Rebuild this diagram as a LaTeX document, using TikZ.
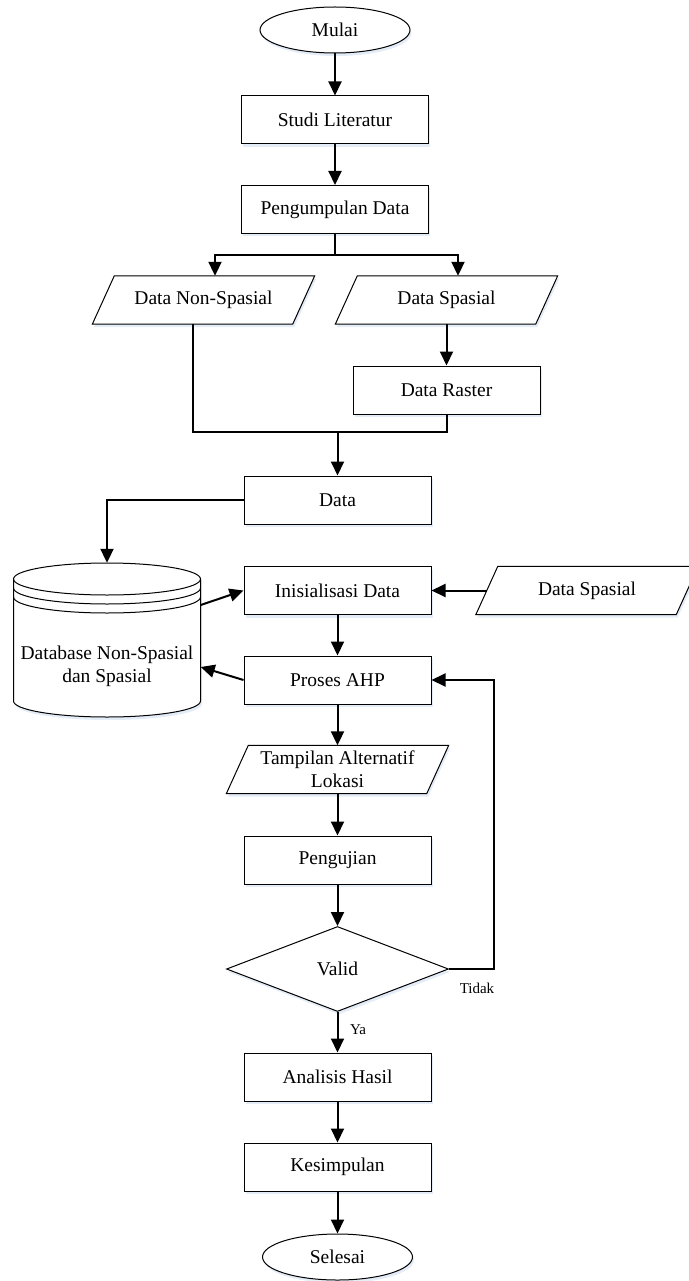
\documentclass[tikz,border=0pt]{standalone}
\usepackage{fontspec}
\setmainfont{Liberation Serif}
\usetikzlibrary{arrows.meta,shapes.geometric,shadows,backgrounds}
\definecolor{shadowc}{RGB}{228,236,247}
\newcommand\paraPath[3]{([xshift=22pt+#2,yshift=#3]#1.north west) -- ([xshift=#2,yshift=#3]#1.north east) -- ([xshift=-22pt+#2,yshift=#3]#1.south east) -- ([xshift=#2,yshift=#3]#1.south west) -- cycle}
\newcommand\drawPara[1]{%
  \fill[shadowc] \paraPath{#1}{1.5pt}{-3pt};
  \draw[line width=1pt,fill=white] \paraPath{#1}{0pt}{0pt};}
\begin{document}
\begin{tikzpicture}[x=1pt,y=-1pt,
  every node/.style={font=\fontsize{19.5pt}{23pt}\selectfont},
  box/.style={draw,fill=white,line width=1pt,minimum width=187pt,minimum height=48pt,inner sep=0pt,align=center,
    drop shadow={shadow xshift=1.5pt,shadow yshift=-3pt,fill=shadowc,opacity=1}},
  term/.style={box,shape=ellipse,minimum width=150pt,minimum height=46pt},
  dec/.style={box,shape=diamond,minimum width=222pt,minimum height=85pt},
  paranode/.style={minimum width=222pt,minimum height=48pt,inner sep=0pt,align=center},
  conn/.style={line width=2pt},
  arr/.style={conn,-{Triangle[length=14pt,width=13pt]}},
  small/.style={font=\fontsize{15pt}{17pt}\selectfont}]
\useasboundingbox (0,0) rectangle (688,1281);

\node[term] (start) at (335,30) {Mulai};
\node[box] (studi) at (335,120) {Studi Literatur};
\node[box] (kump) at (335,209.5) {Pengumpulan Data};
\node[paranode] (nonsp) at (203.5,300) {Data Non-Spasial};
\node[paranode] (sp) at (446.5,300) {Data Spasial};
\node[box] (raster) at (446.5,390) {Data Raster};
\node[box] (data) at (337.5,500) {Data};
\node[minimum width=187pt,minimum height=154pt,inner sep=0pt] (db) at (107,640) {};
\node[align=center] (dbtxt) at (107,666) {Database Non-Spasial\\dan Spasial};
\node[box] (ini) at (337.5,590.5) {Inisialisasi Data};
\node[paranode] (sp2) at (587,590.5) {Data Spasial};
\node[box] (ahp) at (337.5,680) {Proses AHP};
\node[paranode] (tamp) at (337.5,769.5) {Tampilan Alternatif\\Lokasi};
\node[box] (uji) at (337.5,860) {Pengujian};
\node[dec] (valid) at (337.5,969) {Valid};
\node[box] (anal) at (337.5,1077) {Analisis Hasil};
\node[box] (kes) at (337.5,1167) {Kesimpulan};
\node[term] (stop) at (337.5,1257) {Selesai};
\node[small] (tidak) at (477,988) {Tidak};
\node[small] (ya) at (358,1030) {Ya};

\begin{scope}[on background layer]
  % cylinder
  \fill[shadowc] (15,582) -- (15,704) arc[start angle=180,end angle=360,x radius=93.5pt,y radius=16pt]
     -- (202,582) arc[start angle=0,end angle=180,x radius=93.5pt,y radius=16pt] -- cycle;
  \draw[line width=1pt,fill=white] (13.5,579) -- (13.5,701) arc[start angle=180,end angle=360,x radius=93.5pt,y radius=16pt]
     -- (200.5,579) arc[start angle=0,end angle=180,x radius=93.5pt,y radius=16pt] -- cycle;
  \draw[line width=1pt] (13.5,579) arc[start angle=180,end angle=360,x radius=93.5pt,y radius=16pt];
  \draw[line width=1pt] (13.5,588) arc[start angle=180,end angle=360,x radius=93.5pt,y radius=16pt];
  \draw[line width=1pt] (13.5,597) arc[start angle=180,end angle=360,x radius=93.5pt,y radius=16pt];
  % parallelograms
  \drawPara{nonsp}
  \drawPara{sp}
  \drawPara{sp2}
  \drawPara{tamp}
\end{scope}

\coordinate (split) at (335,255);
\coordinate (merge) at (337.5,432);
\draw[arr] (start) -- (studi);
\draw[arr] (studi) -- (kump);
\draw[conn] (kump.south) -- (split);
\draw[arr] (split) -| ([xshift=11.5pt]nonsp.north);
\draw[arr] (split) -| ([xshift=11.5pt]sp.north);
\draw[arr] (sp.south) -- (raster.north);
\draw[conn] ([xshift=-10.5pt]nonsp.south) |- (merge) -| (raster.south);
\draw[arr] (merge) -- (data.north);
\draw[arr] (data.west) -| (db.north);
\draw[arr] ([yshift=35pt]db.east) -- (ini.west);
\draw[arr] ([xshift=11pt]sp2.west) -- (ini.east);
\draw[arr] (ini) -- (ahp);
\draw[arr] (ahp.west) -- ([yshift=-27pt]db.east);
\draw[arr] (ahp.south) -- (tamp.north);
\draw[arr] (tamp.south) -- (uji.north);
\draw[arr] (uji.south) -- (valid.north);
\draw[arr] (valid.east) -- ++(45,0) |- (ahp.east);
\draw[arr] (valid.south) -- (anal.north);
\draw[arr] (anal) -- (kes);
\draw[arr] (kes) -- (stop);
\end{tikzpicture}
\end{document}
